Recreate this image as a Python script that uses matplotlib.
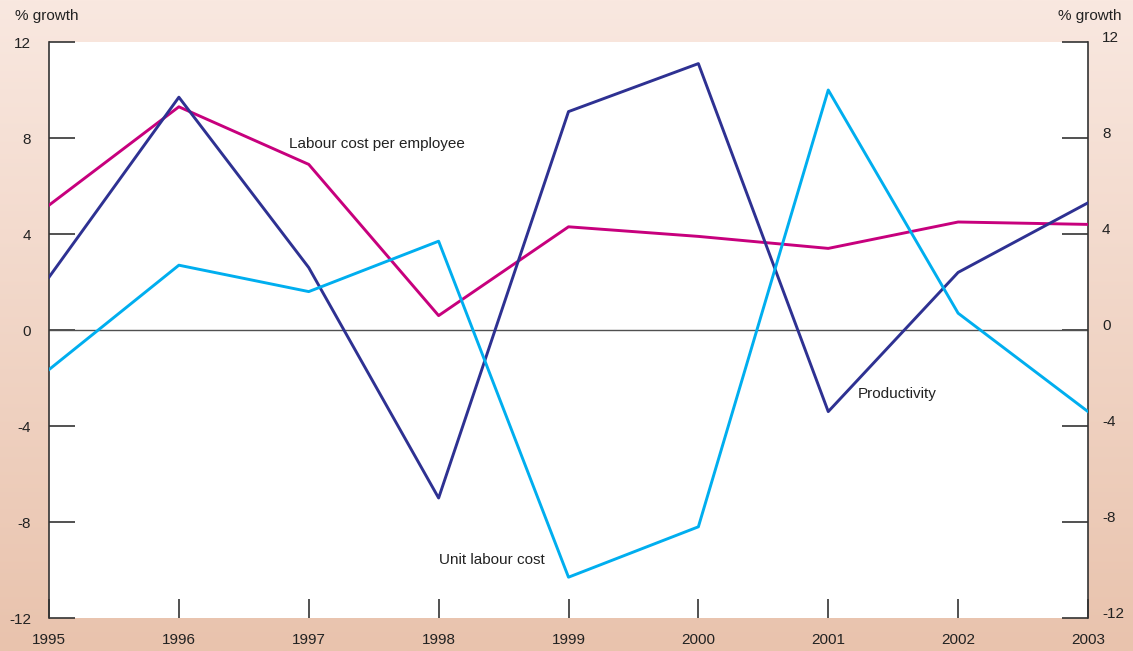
import matplotlib
matplotlib.use("Agg")

import numpy as np
import matplotlib.pyplot as plt
from matplotlib.colors import LinearSegmentedColormap
from matplotlib.transforms import ScaledTranslation

years = [1995, 1996, 1997, 1998, 1999, 2000, 2001, 2002, 2003]
labour_cost = [5.2, 9.3, 6.9, 0.6, 4.3, 3.9, 3.4, 4.5, 4.4]
productivity = [2.2, 9.7, 2.6, -7.0, 9.1, 11.1, -3.4, 2.4, 5.3]
unit_labour_cost = [-1.65, 2.7, 1.6, 3.7, -10.3, -8.2, 10.0, 0.7, -3.4]
yticks = [-12, -8, -4, 0, 4, 8, 12]

plt.rcParams["font.family"] = ["Liberation Sans", "DejaVu Sans"]

W, H = 1133, 651
fig = plt.figure(figsize=(W / 100, H / 100), dpi=100)

# peach background, lighter at the top
bg = fig.add_axes([0, 0, 1, 1], zorder=-10)
cmap = LinearSegmentedColormap.from_list("bg", ["#f9e8e0", "#e9c3ad"])
bg.imshow(np.linspace(0, 1, 256).reshape(-1, 1), aspect="auto", cmap=cmap,
          extent=[0, 1, 0, 1])
bg.axis("off")

left, right, top, bottom = 49, 1088, 42, 618
ax = fig.add_axes([left / W, 1 - bottom / H, (right - left) / W, (bottom - top) / H])
ax.set_facecolor("white")

ax.plot(years, labour_cost, color="#c7007d", lw=2.1, zorder=3)
ax.plot(years, productivity, color="#2e3192", lw=2.1, zorder=3)
ax.plot(years, unit_labour_cost, color="#00aeef", lw=2.1, zorder=3)
ax.axhline(0, color="#505050", lw=1.0, zorder=2)

ax.set_xlim(1995, 2003)
ax.set_ylim(-12, 12)
ax.set_xticks(years)
ax.set_yticks(yticks)
ax.set_yticklabels([str(t) for t in yticks])

for s in ["top", "bottom"]:
    ax.spines[s].set_visible(False)
for s in ["left", "right"]:
    ax.spines[s].set_color("#333333")
    ax.spines[s].set_linewidth(1.2)

ax.tick_params(axis="y", direction="in", length=19, width=1.2, color="#333333",
               labelsize=11, labelcolor="#222222", pad=13,
               right=True, labelright=False)
ax.tick_params(axis="x", direction="in", length=14, width=1.2, color="#333333",
               labelsize=11, labelcolor="#222222", pad=11)

# right-hand labels sit a little above their ticks
rtrans = ax.get_yaxis_transform() + ScaledTranslation(14 / 100, 4 / 100, fig.dpi_scale_trans)
for t in yticks:
    ax.text(1.0, t, str(t), transform=rtrans, fontsize=11, color="#222222",
            va="center", ha="left")

fig.text(15 / W, 1 - 16 / H, "% growth", fontsize=11, color="#222222", va="center")
fig.text(1122 / W, 1 - 16 / H, "% growth", fontsize=11, color="#222222",
         va="center", ha="right")

ax.text(1996.85, 7.75, "Labour cost per employee", fontsize=11, color="#222222",
        va="center")
ax.text(2001.23, -2.65, "Productivity", fontsize=11, color="#222222", va="center")
ax.text(1998.0, -9.6, "Unit labour cost", fontsize=11, color="#222222", va="center")

plt.savefig("out.png", dpi=100)
plt.close()
